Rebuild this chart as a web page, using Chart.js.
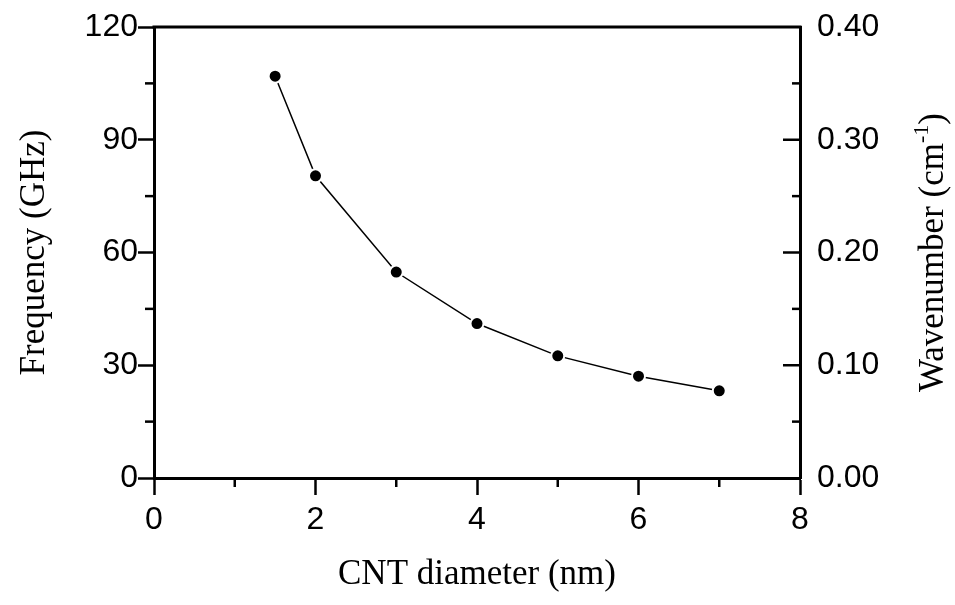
<!DOCTYPE html>
<html><head><meta charset="utf-8">
<script src="https://cdn.jsdelivr.net/npm/chart.js@4.4.1/dist/chart.umd.min.js"></script>
<style>html,body{margin:0;padding:0;background:#fff}#wrap{width:955px;height:605px}</style>
</head><body><div id="wrap"><canvas id="c" width="955" height="605"></canvas></div>
<script>
const diameters = [1.5, 2, 3, 4, 5, 6, 7];
const frequencies = [106.9, 80.4, 54.8, 41.1, 32.5, 27.1, 23.2];
const xRange = [0, 8];
const freqRange = [0, 120];
const waveRange = [0, 0.4];
const xTitle = 'CNT diameter (nm)';
const yTitle = 'Frequency (GHz)';
const y2TitleParts = ['Wavenumber (cm', '-1', ')'];

function seg(ctx, x1, y1, x2, y2) { ctx.beginPath(); ctx.moveTo(x1, y1); ctx.lineTo(x2, y2); ctx.stroke(); }

const deco = {
  id: 'deco',
  afterDraw(chart) {
    const { ctx, chartArea: a, scales } = chart;
    const x = scales.x, y = scales.y, y2 = scales.y2;
    ctx.save();
    ctx.strokeStyle = '#000';
    ctx.lineCap = 'butt';
    ctx.lineWidth = 3;
    seg(ctx, a.left - 1.5, a.top, a.right + 1.5, a.top);
    ctx.lineWidth = 2.5;
    for (let v = 15; v < 120; v += 30) { const p = y.getPixelForValue(v); seg(ctx, a.left - 9, p, a.left, p); }
    for (let v = 1; v < 8; v += 2) { const p = x.getPixelForValue(v); seg(ctx, p, a.bottom, p, a.bottom + 9); }
    for (let i = 1; i <= 3; i++) { const p = y2.getPixelForValue(i / 10); seg(ctx, a.right - 17, p, a.right, p); }
    for (let i = 0; i < 4; i++) { const p = y2.getPixelForValue(0.05 + i / 10); seg(ctx, a.right - 8, p, a.right, p); }

    ctx.fillStyle = '#000';
    const big = '35px "Liberation Serif", "Times New Roman", serif';
    const small = '22px "Liberation Serif", "Times New Roman", serif';
    ctx.font = big;
    ctx.textBaseline = 'alphabetic';
    ctx.textAlign = 'center';
    ctx.fillText(xTitle, (a.left + a.right) / 2, 584);
    const cy = (a.top + a.bottom) / 2;
    ctx.save();
    ctx.translate(44, cy);
    ctx.rotate(-Math.PI / 2);
    ctx.fillText(yTitle, 0, 0);
    ctx.restore();

    ctx.save();
    ctx.translate(943, cy);
    ctx.rotate(-Math.PI / 2);
    ctx.textAlign = 'left';
    ctx.font = big; const w0 = ctx.measureText(y2TitleParts[0]).width;
    ctx.font = small; const w1 = ctx.measureText(y2TitleParts[1]).width;
    ctx.font = big; const w2 = ctx.measureText(y2TitleParts[2]).width;
    let sx = -(w0 + w1 + w2) / 2;
    ctx.font = big; ctx.fillText(y2TitleParts[0], sx, 0); sx += w0;
    ctx.font = small; ctx.fillText(y2TitleParts[1], sx, -15); sx += w1;
    ctx.font = big; ctx.fillText(y2TitleParts[2], sx, 0);
    ctx.restore();
    ctx.restore();
  }
};

const tickFont = { family: '"Liberation Sans", Arial, sans-serif', size: 32 };

function fitV(w) {
  return function (s) { s.width = w; s.paddingTop = 0; s.paddingBottom = 0; };
}

new Chart(document.getElementById('c'), {
  type: 'line',
  data: {
    datasets: [{
      data: diameters.map((d, i) => ({ x: d, y: frequencies[i] })),
      yAxisID: 'y',
      borderColor: '#000',
      borderWidth: 1.5,
      backgroundColor: '#000',
      pointBackgroundColor: '#000',
      pointBorderColor: '#fff',
      pointBorderWidth: 2,
      pointRadius: 6.5,
      tension: 0,
      fill: false
    }]
  },
  options: {
    responsive: false,
    animation: false,
    layout: { padding: { top: 27, left: 0, right: 0, bottom: 0 } },
    plugins: { legend: { display: false }, tooltip: { enabled: false } },
    scales: {
      x: {
        type: 'linear', position: 'bottom', min: xRange[0], max: xRange[1],
        ticks: { stepSize: 2, color: '#000', font: tickFont, padding: 6, maxRotation: 0 },
        grid: { drawOnChartArea: false, color: '#000', tickColor: '#000', tickLength: 17, tickWidth: 2.5 },
        border: { color: '#000', width: 3 },
        afterFit(s) { s.height = 127; s.paddingLeft = 0; s.paddingRight = 0; }
      },
      y: {
        type: 'linear', position: 'left', min: freqRange[0], max: freqRange[1],
        ticks: { stepSize: 30, color: '#000', font: tickFont, padding: 0 },
        grid: { drawOnChartArea: false, color: '#000', tickColor: '#000', tickLength: 16, tickWidth: 2.5 },
        border: { color: '#000', width: 3 },
        afterFit: fitV(154)
      },
      y2: {
        type: 'linear', position: 'right', min: waveRange[0], max: waveRange[1], display: true,
        ticks: { stepSize: 0.1, color: '#000', font: tickFont, padding: 17, callback: v => Number(v).toFixed(2) },
        grid: { display: false, drawOnChartArea: false, drawTicks: false },
        border: { display: true, color: '#000', width: 3 },
        afterFit: fitV(155)
      }
    }
  },
  plugins: [deco]
});
</script>
</body></html>
